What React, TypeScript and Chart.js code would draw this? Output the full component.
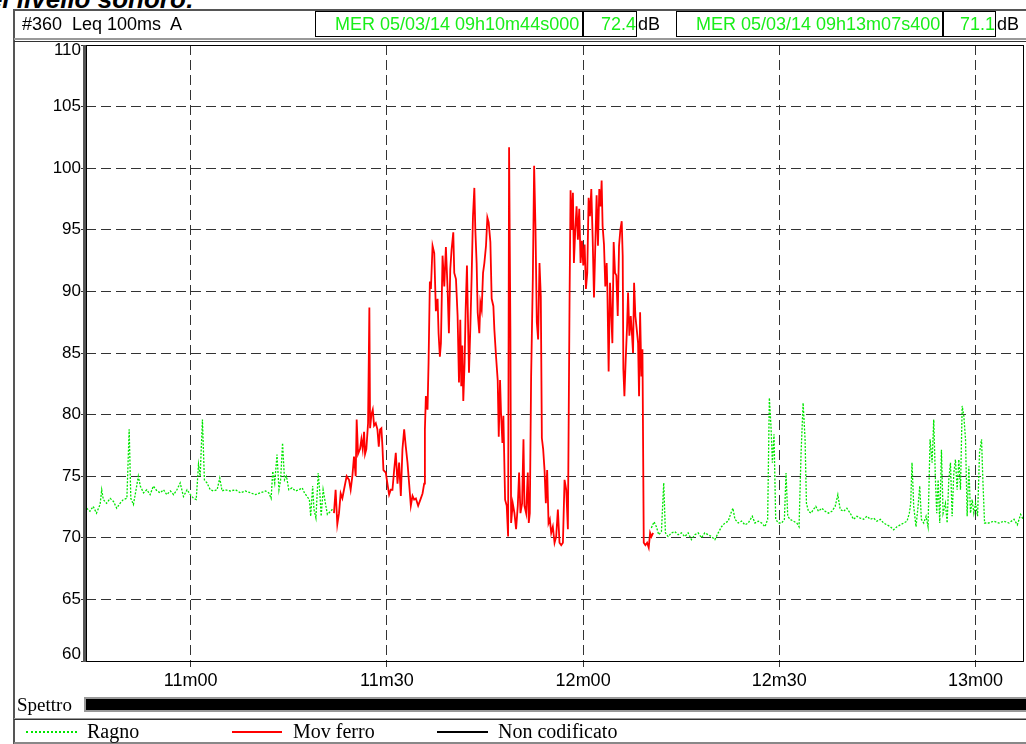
import React, { useEffect, useRef } from 'react';
import { Chart, registerables } from 'chart.js';

Chart.register(...registerables);

// ---- data (seconds from start of the hour, dB(A)) ----
const ragnoTimesA = [
  644.1, 644.6, 645.1, 645.6, 646.15, 646.4, 646.65, 647.15, 647.7, 648.2,
  648.7, 649.2, 649.7, 650.25, 650.6, 650.85, 651.25, 651.65, 652.0, 652.3,
  652.8, 653.3, 653.8, 654.3, 654.85, 655.35, 655.85, 656.35, 656.9, 657.4,
  657.9, 658.4, 658.9, 659.45, 659.95, 660.45, 660.85, 661.2, 661.45, 661.8,
  662.1, 662.5, 663.0, 663.5, 664.05, 664.45, 664.8, 665.3, 666.05, 666.85,
  667.6, 668.35, 669.15, 669.9, 670.65, 671.45, 671.95, 672.3, 672.55, 672.85,
  673.2, 673.5, 673.75, 674.05, 674.35, 674.65, 675.0, 675.5, 676.05, 676.55,
  677.05, 677.4, 677.8, 678.15, 678.35, 678.65, 678.85, 679.15, 679.5, 679.75,
  679.95, 680.25, 680.6, 680.9, 681.4, 681.8,
];
const ragnoLevelsA = [
  72.4, 72.15, 72.55, 72.0, 72.7, 73.9, 73.1, 72.8, 73.2, 72.95,
  72.4, 72.8, 73.1, 73.2, 78.8, 73.2, 72.7, 73.9, 75.0, 74.2,
  73.65, 73.9, 73.5, 74.2, 73.8, 73.65, 73.9, 73.5, 73.8, 73.5,
  73.9, 74.45, 73.35, 73.9, 73.5, 73.2, 73.1, 75.95, 75.0, 79.6,
  74.7, 74.45, 73.9, 73.8, 73.9, 74.85, 73.8, 73.9, 73.8, 73.9,
  73.65, 73.8, 73.65, 73.5, 73.65, 73.8, 73.65, 73.2, 75.4, 74.45,
  76.75, 73.9, 74.7, 77.7, 74.7, 75.0, 73.9, 74.05, 73.8, 73.9,
  74.05, 73.65, 73.35, 73.1, 71.75, 74.2, 72.3, 71.6, 75.25, 73.65,
  71.75, 73.9, 72.8, 71.9, 72.15, 72.4,
];

const movTimes = [
  681.91, 682.16, 682.42, 682.68, 682.93, 683.19, 683.44, 683.85, 684.21, 684.46,
  684.72, 684.97, 685.23, 685.38, 685.59, 685.89, 686.10, 686.30, 686.51, 686.66,
  686.86, 687.12, 687.32, 687.43, 687.63, 687.84, 688.04, 688.30, 688.55, 688.76,
  688.96, 689.16, 689.32, 689.47, 689.83, 690.08, 690.34, 690.59, 690.85, 691.11,
  691.36, 691.62, 691.87, 692.13, 692.38, 692.64, 692.89, 693.15, 693.40, 693.66,
  693.92, 694.17, 694.43, 694.78, 695.19, 695.45, 695.70, 695.81, 695.96, 696.21,
  696.37, 696.57, 696.73, 696.98, 697.24, 697.49, 697.75, 697.90, 698.10, 698.26,
  698.51, 698.77, 699.02, 699.28, 699.48, 699.69, 699.89, 700.15, 700.30, 700.56,
  700.81, 701.02, 701.22, 701.37, 701.53, 701.68, 701.88, 702.04, 702.24, 702.55,
  702.75, 702.96, 703.16, 703.37, 703.52, 703.72, 703.88, 704.13, 704.29, 704.49,
  704.70, 704.90, 705.15, 705.36, 705.56, 705.82, 706.02, 706.28, 706.43, 706.69,
  706.94, 707.10, 707.30, 707.45, 707.66, 707.81, 708.07, 708.32, 708.53, 708.68,
  708.88, 708.99, 709.24, 709.50, 709.75, 710.01, 710.21, 710.42, 710.67, 710.88,
  711.03, 711.29, 711.54, 711.69, 711.85, 712.05, 712.31, 712.51, 712.72, 712.92,
  713.12, 713.33, 713.53, 713.69, 713.89, 714.10, 714.30, 714.50, 714.71, 714.91,
  715.12, 715.37, 715.63, 715.88, 716.14, 716.39, 716.65, 716.91, 717.16, 717.42,
  717.67, 717.93, 718.08, 718.28, 718.44, 718.59, 718.80, 719.00, 719.20, 719.41,
  719.61, 719.82, 720.02, 720.23, 720.43, 720.63, 720.84, 721.04, 721.25, 721.45,
  721.66, 721.86, 722.06, 722.27, 722.47, 722.68, 722.83, 722.98, 723.19, 723.39,
  723.60, 723.70, 723.90, 724.11, 724.31, 724.47, 724.67, 724.88, 725.08, 725.29,
  725.49, 725.69, 725.90, 726.05, 726.15, 726.31, 726.51, 726.72, 726.87, 727.07,
  727.28, 727.48, 727.63, 727.79, 727.99, 728.20, 728.40, 728.55, 728.71, 728.91,
  729.07, 729.27, 729.52, 729.78, 730.03, 730.24, 730.44, 730.70,
];
const movLevels = [
  72.0, 73.9, 71.1, 72.0, 73.6, 73.2, 73.9, 75.0, 74.7, 73.9,
  75.0, 76.6, 75.0, 79.6, 76.8, 77.2, 78.0, 77.2, 78.6, 76.8,
  77.2, 79.3, 88.7, 78.9, 80.0, 80.4, 79.1, 79.3, 78.8, 77.4,
  78.8, 78.9, 77.4, 75.5, 75.3, 74.4, 73.5, 73.9, 73.9, 75.5,
  76.9, 74.4, 76.1, 73.4, 77.2, 78.8, 77.4, 76.1, 74.4, 72.6,
  73.4, 73.1, 73.2, 72.6, 73.2, 73.6, 74.4, 78.8, 81.5, 80.4,
  84.2, 90.8, 90.2, 93.7, 93.1, 88.4, 89.4, 86.6, 84.7, 85.8,
  92.9, 90.4, 93.6, 90.2, 86.6, 91.8, 93.4, 94.8, 91.5, 91.0,
  88.0, 82.6, 87.7, 82.3, 85.6, 81.1, 84.2, 88.5, 92.1, 83.4,
  86.9, 91.3, 96.1, 98.4, 95.0, 92.3, 88.3, 86.6, 89.1, 88.5,
  91.5, 92.3, 93.7, 96.0, 95.6, 94.0, 89.4, 88.8, 86.9, 84.7,
  82.8, 78.2, 82.8, 80.1, 77.7, 79.9, 73.1, 72.6, 70.1, 101.7,
  86.9, 71.2, 72.8, 72.0, 70.7, 72.6, 75.3, 72.0, 72.8, 78.0,
  72.6, 72.0, 75.3, 71.2, 72.0, 83.1, 91.0, 100.2, 95.0, 87.5,
  86.1, 92.3, 89.6, 78.1, 77.2, 75.5, 72.8, 75.5, 71.2, 71.5,
  70.4, 70.9, 69.6, 70.1, 72.3, 69.6, 69.4, 69.6, 74.7, 73.9,
  70.7, 89.6, 98.2, 95.0, 98.0, 92.3, 95.0, 96.9, 94.2, 96.7,
  92.3, 94.1, 92.1, 93.8, 90.2, 91.5, 97.6, 96.1, 98.3, 94.5,
  89.5, 93.7, 97.8, 93.7, 98.3, 96.9, 99.0, 95.3, 93.8, 90.4,
  92.3, 90.4, 83.5, 90.7, 88.0, 85.8, 94.0, 91.5, 91.3, 88.0,
  93.7, 95.0, 95.7, 92.9, 83.7, 81.5, 84.5, 87.2, 89.9, 86.4,
  88.0, 86.4, 85.0, 90.7, 88.0, 86.9, 85.8, 81.5, 88.3, 83.1,
  85.3, 69.6, 69.4, 69.6, 69.2, 70.4, 70.1, 70.4,
];

const ragnoTimesB = [
  730.43, 730.84, 731.20, 731.56, 731.97, 732.32, 732.58, 732.99, 733.50, 734.01,
  734.52, 735.03, 735.54, 736.05, 736.56, 737.07, 737.59, 738.10, 738.61, 739.12,
  739.63, 740.14, 740.65, 741.16, 741.67, 742.18, 742.59, 742.90, 743.21, 743.72,
  744.23, 744.74, 745.25, 745.86, 746.27, 746.78, 747.29, 747.80, 748.21, 748.47,
  748.72, 748.93, 749.18, 749.44, 749.85, 750.36, 750.77, 751.02, 751.28, 751.64,
  752.15, 752.66, 753.01, 753.32, 753.63, 753.93, 754.14, 754.45, 754.85, 755.21,
  755.57, 755.98, 756.49, 757.00, 757.51, 758.02, 758.53, 758.94, 759.30, 759.81,
  760.32, 760.83, 761.34, 761.85, 762.36, 762.87, 763.39, 763.90, 764.41, 764.92,
  765.43, 765.94, 766.45, 766.96, 767.47, 767.98, 768.49, 769.01, 769.52, 769.87,
  770.08, 770.28, 770.54, 770.89, 771.20, 771.46, 771.71, 772.07, 772.43, 772.73,
  773.04, 773.35, 773.60, 773.86, 774.06, 774.27, 774.52, 774.78, 775.03, 775.39,
  775.65, 775.90, 776.16, 776.41, 776.67, 776.92, 777.18, 777.44, 777.69, 777.95,
  778.20, 778.46, 778.71, 778.97, 779.22, 779.48, 779.73, 779.99, 780.30, 780.60,
  780.91, 781.11, 781.37, 782.03, 782.80, 783.57, 784.33, 785.10, 785.87, 786.38,
  786.89, 787.40, 787.91,
];
const ragnoLevelsB = [
  70.8, 71.3, 70.9, 70.25, 70.5, 74.45, 70.4, 70.1, 70.4, 70.5,
  70.25, 70.4, 70.1, 70.4, 69.85, 70.25, 70.4, 70.0, 70.4, 70.25,
  70.1, 69.85, 70.4, 70.9, 71.2, 71.35, 72.0, 72.4, 71.5, 71.2,
  71.35, 71.05, 71.2, 71.75, 71.2, 71.35, 71.2, 70.9, 71.5, 81.35,
  79.05, 76.1, 78.4, 71.5, 71.2, 71.2, 71.5, 75.25, 71.75, 71.5,
  71.35, 71.2, 70.9, 76.9, 80.95, 78.0, 72.8, 72.15, 72.0, 72.3,
  72.55, 72.15, 72.4, 72.15, 72.0, 72.15, 72.55, 73.5, 72.3, 72.15,
  72.4, 72.0, 71.5, 71.75, 71.6, 71.5, 71.75, 71.5, 71.6, 71.35,
  71.5, 71.2, 71.05, 70.9, 70.65, 70.9, 71.05, 71.2, 71.35, 72.0,
  72.8, 76.1, 72.55, 70.9, 72.55, 74.2, 71.5, 71.2, 71.75, 70.9,
  78.0, 76.1, 79.6, 74.7, 72.0, 74.7, 71.2, 77.15, 72.0, 72.8,
  71.2, 74.7, 76.1, 71.75, 75.25, 76.35, 73.9, 76.35, 73.9, 80.7,
  79.9, 78.0, 71.75, 75.8, 72.0, 73.1, 72.0, 72.8, 71.75, 76.9,
  78.0, 74.7, 71.2, 71.2, 71.35, 71.2, 71.35, 71.2, 71.5, 71.05,
  71.9, 71.35, 71.35,
];

const xMinSeconds = 644.0;
const xMaxSeconds = 787.4;
const xTickSeconds = [660, 690, 720, 750, 780];
const yMin = 60;
const yMax = 110;
const yStep = 5;

const titleText = 'del livello sonoro:';
const headerLabel = '#360  Leq 100ms  A';
const cursor1Text = 'MER 05/03/14 09h10m44s000';
const cursor1Value = '72.4';
const cursor2Text = 'MER 05/03/14 09h13m07s400';
const cursor2Value = '71.1';
const unitText = 'dB';
const spectrumLabel = 'Spettro';
const legendLabels = ['Ragno', 'Mov ferro', 'Non codificato'];

const SANS = '"Liberation Sans", Arial, sans-serif';
const SERIF = '"Liberation Serif", "Times New Roman", serif';
const GREEN = '#00e600';
const GREEN_TEXT = '#18ee18';

const zip = (t: number[], v: number[]) => {
  const n = Math.min(t.length, v.length);
  const out: { x: number; y: number }[] = [];
  for (let i = 0; i < n; i++) out.push({ x: t[i], y: v[i] });
  return out;
};

const fmtTime = (s: number) => {
  const m = Math.floor(s / 60);
  const r = Math.round(s - m * 60);
  return `${m}m${String(r).padStart(2, '0')}`;
};

const framePlugin = {
  id: 'plotFrame',
  afterDraw(chart: any) {
    const { ctx, chartArea: a } = chart;
    ctx.save();
    ctx.fillStyle = '#555';
    ctx.fillRect(a.left - 3, a.top, 3, a.bottom - a.top + 1);
    ctx.strokeStyle = '#000';
    ctx.lineWidth = 1;
    ctx.beginPath();
    ctx.moveTo(a.left + 0.5, a.top + 0.5);
    ctx.lineTo(a.right - 0.5, a.top + 0.5);
    ctx.lineTo(a.right - 0.5, a.bottom + 0.5);
    ctx.lineTo(a.left + 0.5, a.bottom + 0.5);
    ctx.closePath();
    ctx.stroke();
    // y tick labels, kept inside the plot's vertical span at both ends
    const ys = chart.scales.y;
    ctx.fillStyle = '#000';
    ctx.font = `17px ${SANS}`;
    ctx.textAlign = 'right';
    ctx.textBaseline = 'middle';
    ys.ticks.forEach((t: any) => {
      let py = ys.getPixelForValue(t.value);
      py = Math.min(Math.max(py, a.top + 5), a.bottom - 7);
      ctx.fillText(String(t.value), a.left - 5, py);
    });
    ctx.restore();
  },
};

function ChartCanvas() {
  const ref = useRef<HTMLCanvasElement | null>(null);
  useEffect(() => {
    if (!ref.current) return;
    const chart = new Chart(ref.current, {
      type: 'line',
      data: {
        datasets: [
          {
            label: 'Mov ferro',
            data: zip(movTimes, movLevels),
            borderColor: '#ff0000',
            borderWidth: 1.8,
            pointRadius: 0,
            tension: 0,
            fill: false,
          },
          {
            label: 'Ragno',
            data: zip(ragnoTimesA, ragnoLevelsA),
            borderColor: GREEN,
            borderWidth: 1.3,
            borderDash: [2, 1.5],
            pointRadius: 0,
            tension: 0,
            fill: false,
          },
          {
            label: 'Ragno',
            data: zip(ragnoTimesB, ragnoLevelsB),
            borderColor: GREEN,
            borderWidth: 1.3,
            borderDash: [2, 1.5],
            pointRadius: 0,
            tension: 0,
            fill: false,
          },
        ],
      },
      options: {
        animation: false,
        responsive: false,
        maintainAspectRatio: false,
        events: [],
        layout: { padding: { top: 15, right: 2, left: 0, bottom: 0 } },
        plugins: { legend: { display: false }, tooltip: { enabled: false } },
        scales: {
          x: {
            type: 'linear',
            min: xMinSeconds,
            max: xMaxSeconds,
            afterBuildTicks: (s: any) => {
              s.ticks = xTickSeconds.map((v) => ({ value: v }));
            },
            afterFit: (s: any) => {
              s.height = 33;
              s.paddingLeft = 0;
              s.paddingRight = 0;
            },
            ticks: {
              callback: (v: any) => fmtTime(Number(v)),
              color: '#000',
              font: { family: SANS, size: 18 },
              maxRotation: 0,
              autoSkip: false,
              padding: 3,
            },
            grid: {
              color: '#333',
              lineWidth: 1,
              tickLength: 6,
              tickColor: '#333',
              tickBorderDash: [],
            },
            border: { display: false, dash: [10, 5] },
          },
          y: {
            type: 'linear',
            min: yMin,
            max: yMax,
            ticks: {
              stepSize: yStep,
              display: false,
            },
            afterFit: (s: any) => {
              s.width = 72;
              s.paddingTop = 0;
              s.paddingBottom = 0;
            },
            grid: {
              color: '#333',
              lineWidth: 1,
              tickLength: 5,
              tickColor: '#333',
              tickBorderDash: [],
            },
            border: { display: false, dash: [10, 5] },
          },
        },
      },
      plugins: [framePlugin],
    } as any);
    return () => chart.destroy();
  }, []);
  return (
    <canvas
      ref={ref}
      width={1012}
      height={664}
      style={{ position: 'absolute', left: 14, top: 30, width: 1012, height: 664 }}
    />
  );
}

const abs = (s: React.CSSProperties): React.CSSProperties => ({ position: 'absolute', ...s });

function HeaderBox(props: { left: number; width: number; text: string; padLeft?: number; right?: boolean }) {
  return (
    <div
      style={abs({
        left: props.left,
        top: 11,
        width: props.width,
        height: 26,
        boxSizing: 'border-box',
        border: '1px solid #000',
        background: '#fff',
        color: GREEN_TEXT,
        font: `18px ${SANS}`,
        lineHeight: '24px',
        whiteSpace: 'pre',
        overflow: 'hidden',
        textAlign: props.right ? 'right' : 'left',
        paddingLeft: props.padLeft || 0,
      })}
    >
      {props.text}
    </div>
  );
}

export default function App() {
  return (
    <div style={abs({ left: 0, top: 0, width: 1026, height: 744, overflow: 'hidden', background: '#fff' })}>
      <ChartCanvas />
      {/* cut-off title */}
      <div style={abs({ left: -28, top: -14, font: `italic bold 26px ${SANS}`, lineHeight: '26px', whiteSpace: 'pre', color: '#000' })}>
        {titleText}
      </div>
      {/* outer frame */}
      <div style={abs({ left: 13, top: 9, width: 1020, height: 740, borderLeft: '2px solid #555', borderTop: '2px solid #555' })} />
      {/* header */}
      <div style={abs({ left: 22, top: 12, font: `18px ${SANS}`, lineHeight: '24px', whiteSpace: 'pre', color: '#000' })}>
        {headerLabel}
      </div>
      <HeaderBox left={315} width={268} text={cursor1Text} padLeft={19} />
      <HeaderBox left={583} width={54} text={cursor1Value} right />
      <div style={abs({ left: 638, top: 12, font: `18px ${SANS}`, lineHeight: '24px', color: '#000' })}>{unitText}</div>
      <HeaderBox left={676} width={267} text={cursor2Text} padLeft={19} />
      <HeaderBox left={943} width={53} text={cursor2Value} right />
      <div style={abs({ left: 997, top: 12, font: `18px ${SANS}`, lineHeight: '24px', color: '#000' })}>{unitText}</div>
      <div style={abs({ left: 14, top: 38, width: 1012, height: 2, background: '#999' })} />
      <div style={abs({ left: 14, top: 41, width: 1012, height: 1, background: '#333' })} />
      {/* spectrum row */}
      <div style={abs({ left: 17, top: 695, font: `19px ${SERIF}`, lineHeight: '19px', color: '#000', whiteSpace: 'pre' })}>
        {spectrumLabel}
      </div>
      <div
        style={abs({
          left: 84,
          top: 697,
          width: 942,
          height: 15,
          boxSizing: 'border-box',
          background: '#000',
          borderTop: '2px solid #999',
          borderLeft: '2px solid #999',
          borderBottom: '2px solid #999',
        })}
      />
      {/* legend row */}
      <div style={abs({ left: 14, top: 718, width: 1012, height: 1, background: '#999' })} />
      <div style={abs({ left: 14, top: 719, width: 1012, height: 1, background: '#333' })} />
      <div style={abs({ left: 14, top: 742, width: 1012, height: 2, background: '#888' })} />
      <div style={abs({ left: 26, top: 731, width: 51, height: 0, borderTop: `2px dotted ${GREEN}` })} />
      <div style={abs({ left: 232, top: 731, width: 50, height: 2, background: '#ff0000' })} />
      <div style={abs({ left: 437, top: 731, width: 51, height: 2, background: '#000' })} />
      {[87, 293, 498].map((x, i) => (
        <div key={i} style={abs({ left: x, top: 721, font: `20px ${SERIF}`, lineHeight: '20px', color: '#000', whiteSpace: 'pre' })}>
          {legendLabels[i]}
        </div>
      ))}
    </div>
  );
}
